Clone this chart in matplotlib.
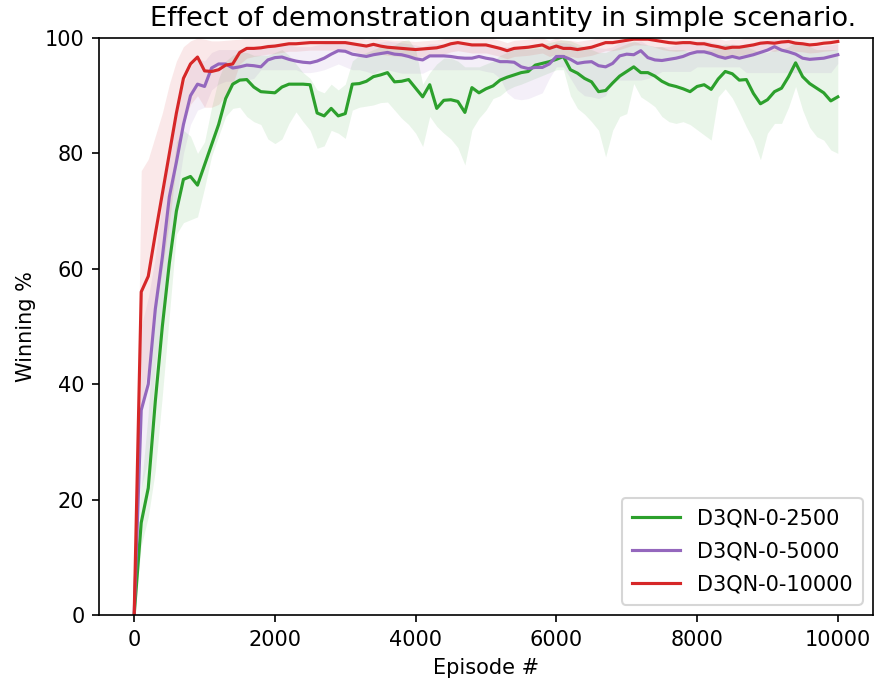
import numpy as np
import matplotlib
matplotlib.use('Agg')
import matplotlib.pyplot as plt

# episodes, one sample every 100
episodes = list(range(0, 10001, 100))

labels = ['D3QN-0-2500', 'D3QN-0-5000', 'D3QN-0-10000']
colors = ['tab:green', 'tab:purple', 'tab:red']

green_mean = [
    0, 16, 22, 37, 50, 61, 70, 75.5, 76, 74.5,
    78, 81.5, 85, 89.5, 92, 92.7, 92.8, 91.5, 90.7, 90.6,
    90.5, 91.5, 92, 92, 92, 91.9, 87, 86.5, 87.8, 86.5,
    86.9, 92, 92.1, 92.5, 93.3, 93.6, 94, 92.4, 92.5, 92.8,
    91.3, 89.8, 91.9, 87.8, 89.2, 89.3, 89, 87.1, 91.4, 90.5,
    91.2, 91.7, 92.7, 93.2, 93.6, 94, 94.2, 95.3, 95.6, 95.9,
    96.3, 96.8, 94.5, 93.9, 93, 92.4, 90.7, 90.9, 92.2, 93.4,
    94.2, 95, 94, 94, 93.4, 92.5, 91.9, 91.6, 91.2, 90.7,
    91.6, 91.9, 91.1, 92.9, 94.2, 93.8, 92.7, 92.8, 90.4, 88.6,
    89.3, 90.7, 91.3, 93.3, 95.7, 93.3, 92.1, 91.3, 90.5, 89.1,
    89.8]
green_lo = [
    0, 12, 17, 25, 38, 52, 66, 68, 68.5, 69,
    74, 79.5, 83, 86.4, 87.8, 88, 86.4, 85.5, 85, 82.5,
    81.7, 82.5, 85.2, 87.2, 85.5, 84, 80.9, 81.3, 84, 83.5,
    82.6, 87.5, 88, 88.2, 88.4, 88.8, 88.9, 87.5, 86.1, 85,
    83.5, 81.2, 86.4, 84.7, 83.5, 82.5, 81, 78, 84.1, 86.1,
    87.5, 89.5, 90, 91, 91.6, 92, 92.5, 93, 93.5, 94,
    94.5, 94.5, 90, 87.8, 86.8, 85.5, 84, 79.4, 84, 86.4,
    86.9, 92.1, 89.8, 89, 88.1, 86.4, 85.5, 85.2, 85.5, 85,
    84.1, 83.2, 82.3, 89.8, 91.2, 89.6, 87.2, 84.6, 82.3, 78.9,
    83.5, 85.2, 85.2, 88, 91.6, 87.5, 84.5, 82.9, 82.3, 80.6,
    80]
green_hi = [
    0, 22, 35, 55, 62, 72, 82, 84, 83, 80,
    82, 88, 93, 96, 97, 97.5, 97.5, 97, 97, 97,
    97.5, 98, 97, 95.5, 94, 93, 91, 90.5, 92, 91,
    92, 96, 97, 97.5, 98, 98.5, 98.5, 98.8, 99.5, 99.7,
    98, 92, 94, 95.5, 96.5, 96.5, 96, 95, 95, 95,
    95.5, 96, 97, 97.5, 98, 98, 98.5, 99, 99, 99.2,
    99.5, 99.7, 99.5, 99, 98.5, 98, 97.5, 97.5, 98, 98.5,
    99, 99.5, 99, 98.8, 98.5, 98.5, 98, 98, 98, 97.5,
    98, 98, 98, 98.5, 99, 98.8, 98.5, 98.5, 98, 97.5,
    97.5, 98, 98, 98.5, 99.5, 99, 98.5, 98, 98, 98,
    98]

purple_mean = [
    0, 35.5, 40, 53, 62, 72.5, 78.5, 85, 90, 92,
    91.6, 94.8, 95.5, 95.5, 94.8, 95, 95.3, 95.2, 95, 96.2,
    96.6, 96.7, 96.3, 96, 95.8, 95.7, 96, 96.5, 97.2, 97.8,
    97.7, 97.2, 97, 96.8, 97.1, 97.3, 97.5, 97.2, 97.1, 96.8,
    96.4, 96.2, 96.9, 96.9, 96.9, 96.8, 96.6, 96.5, 96.5, 96.8,
    96.5, 96.3, 95.9, 95.9, 95.8, 95, 94.7, 94.9, 94.9, 95.5,
    96.8, 96.8, 96.3, 95.6, 95.8, 95.9, 95.2, 95, 95.6, 96.9,
    97.2, 97.1, 97.8, 96.6, 96.2, 96.1, 96.3, 96.5, 96.8, 97.3,
    97.6, 97.6, 97.3, 96.8, 96.5, 96.8, 96.5, 96.8, 97.1, 97.5,
    97.9, 98.5, 97.9, 97.6, 97.2, 96.5, 96.3, 96.4, 96.5, 96.8,
    97.1]
purple_lo = [
    0, 22, 27, 43, 52, 62, 72, 80, 85, 87.5,
    88, 91, 92, 92.5, 92.5, 92.7, 92.7, 93, 94.5, 94.5,
    94.5, 94.5, 94.5, 94.5, 94, 94, 94.2, 94.5, 95, 95.5,
    95, 94.5, 94.5, 94.2, 93.8, 94.5, 94.5, 94.2, 93.9, 93.9,
    93.9, 93.9, 94.5, 94.5, 94.5, 94.5, 94.5, 94.5, 94.5, 94.5,
    94.2, 94, 93, 90.5, 89.5, 89.3, 89.5, 90, 90.5, 93,
    95, 95, 93, 91, 90, 89.8, 89.5, 90, 92.7, 92.7,
    92.7, 92.7, 92.7, 93, 93.5, 94.2, 94.2, 94.2, 94.2, 94.2,
    95, 95, 95, 95, 95, 95, 95, 94, 94, 94,
    94, 94, 94, 94, 94, 94, 94, 94, 94, 94,
    95.6]
purple_hi = [
    0, 50, 55, 62, 72, 80, 87, 92, 95, 96.5,
    96, 97.5, 98, 98, 98, 98, 98.5, 98.5, 98.5, 99,
    99, 99, 98.8, 98.5, 98.5, 98.5, 98.8, 99, 99.3, 99.5,
    99.5, 99.3, 99, 99, 99.2, 99.3, 99.5, 99.3, 99.2, 99,
    98.8, 98.5, 99, 99, 99, 99, 99, 98.8, 98.8, 99,
    99, 98.8, 98.5, 98.5, 98.5, 98.2, 98, 98.2, 98.2, 98.5,
    99.2, 99.2, 99, 98.5, 98.5, 98.5, 98.3, 98.2, 98.5, 99.2,
    99.3, 99.3, 99.5, 98.8, 98.5, 98.5, 98.5, 98.8, 99, 99.3,
    99.5, 99.5, 99.3, 99, 98.8, 99, 98.8, 99, 99.2, 99.4,
    99.6, 99.8, 99.6, 99.4, 99.2, 98.8, 98.6, 98.6, 98.7, 98.8,
    99]

red_mean = [
    0, 56, 58.7, 66, 73, 80, 87, 93, 95.5, 96.7,
    94.3, 94.2, 94.5, 95.3, 95.5, 97.5, 98.2, 98.2, 98.3, 98.5,
    98.6, 98.8, 99, 99, 99.1, 99.2, 99.2, 99.2, 99.2, 99.2,
    99.2, 99, 98.8, 98.6, 98.9, 98.6, 98.4, 98.3, 98.2, 98.1,
    98, 98.1, 98.2, 98.3, 98.6, 99, 99.2, 99, 98.8, 98.8,
    98.8, 98.5, 98.2, 97.8, 98.2, 98.3, 98.4, 98.6, 98.8, 98.2,
    98.6, 98.2, 98.2, 98, 98.2, 98.4, 98.8, 99.2, 99.2, 99.4,
    99.6, 99.8, 99.8, 99.8, 99.6, 99.4, 99.2, 99.1, 99.2, 99.2,
    99, 99, 98.7, 98.5, 98.2, 98.4, 98.4, 98.6, 98.8, 99.1,
    99.2, 99.1, 99.3, 99.4, 99.1, 99, 98.8, 98.9, 99.1, 99.2,
    99.4]
red_lo = [
    0, 36, 43, 52, 60, 68, 78, 85, 88.5, 90,
    88, 88, 88.5, 90, 92, 95.5, 96.5, 96.8, 97, 97.2,
    97.3, 97.5, 97.7, 97.7, 97.8, 97.9, 97.9, 97.9, 97.9, 97.9,
    97.9, 97.7, 97.4, 97.2, 97.5, 97.2, 97, 96.9, 96.8, 96.7,
    96.6, 96.7, 96.8, 96.9, 97.2, 97.6, 97.8, 97.6, 97.4, 97.4,
    97.4, 97.1, 96.8, 96.4, 96.8, 96.9, 97, 97.2, 97.4, 96.8,
    97.2, 96.8, 96.8, 96.6, 96.8, 97, 97.4, 97.8, 97.8, 98,
    98.4, 98.8, 98.8, 98.8, 98.4, 98, 97.8, 97.7, 97.8, 97.8,
    97.6, 97.6, 97.3, 97.1, 96.8, 97, 97, 97.2, 97.4, 97.7,
    97.8, 97.7, 97.9, 98, 97.7, 97.6, 97.4, 97.5, 97.7, 97.8,
    98]
red_hi = [
    0, 77, 79, 83, 87, 92, 96, 98.5, 99.5, 100,
    99.8, 99.5, 99.5, 99.6, 99.7, 99.8, 100, 100, 100, 100,
    100, 100, 100, 100, 100, 100, 100, 100, 100, 100,
    100, 100, 100, 99.8, 100, 99.8, 99.7, 99.6, 99.6, 99.5,
    99.4, 99.5, 99.6, 99.7, 99.9, 100, 100, 100, 100, 100,
    100, 99.9, 99.6, 99.2, 99.6, 99.7, 99.8, 100, 100, 99.6,
    100, 99.6, 99.6, 99.4, 99.6, 99.8, 100, 100, 100, 100,
    100, 100, 100, 100, 100, 100, 100, 100, 100, 100,
    100, 100, 100, 99.9, 99.6, 99.8, 99.8, 100, 100, 100,
    100, 100, 100, 100, 100, 100, 100, 100, 100, 100,
    100]

means = [green_mean, purple_mean, red_mean]
lows = [green_lo, purple_lo, red_lo]
highs = [green_hi, purple_hi, red_hi]

fig = plt.figure(figsize=(875 / 150, 686 / 150), dpi=150)
ax = fig.add_axes([99 / 875, 1 - 615 / 686, 774 / 875, 577 / 686])

for m, lo, hi, c, lab in zip(means, lows, highs, colors, labels):
    ax.plot(episodes, m, color=c, label=lab, linewidth=1.5)
    ax.fill_between(episodes, lo, hi, color=c, alpha=0.1, linewidth=0)

ax.set_ylim(0, 100)
ax.set_xlabel('Episode #')
ax.set_ylabel('Winning %')
ax.set_title('Effect of demonstration quantity in simple scenario.',
             fontsize=13, x=0.522)
ax.legend(loc='lower right', fontsize=10, handlelength=2.3,
          labelspacing=0.62, borderpad=0.5)

fig.savefig('out.png', dpi=150)
